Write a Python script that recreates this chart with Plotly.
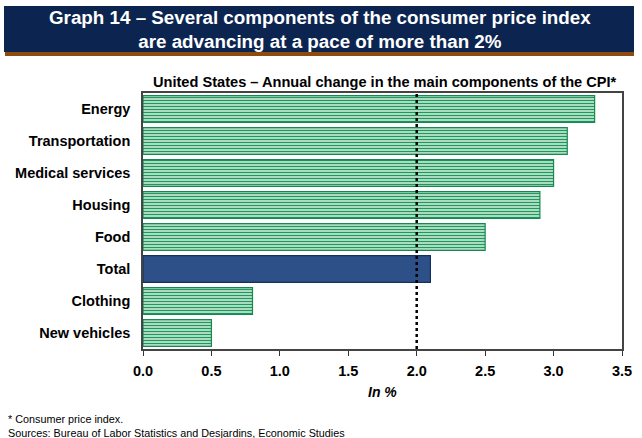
import plotly.graph_objects as go

# Annual change in the main CPI components (%)
categories = ["Energy", "Transportation", "Medical services", "Housing",
              "Food", "Total", "Clothing", "New vehicles"]
values = [3.3, 3.1, 3.0, 2.9, 2.5, 2.1, 0.8, 0.5]
x_ticks = [0.0, 0.5, 1.0, 1.5, 2.0, 2.5, 3.0, 3.5]
reference_rate = 2.0

green_line = "#17894F"
green_stripe = "#1C9A5A"
navy_fill = "#2E5089"
navy_line = "#172F5C"

# Striped green bars for components, solid navy for the total
fill_colors = [navy_fill if c == "Total" else green_stripe for c in categories]
line_colors = [navy_line if c == "Total" else green_line for c in categories]
pattern_shapes = ["" if c == "Total" else "-" for c in categories]

FONT = "Liberation Sans, Arial, sans-serif"

fig = go.Figure()
fig.add_trace(go.Bar(
    x=values,
    y=categories,
    orientation="h",
    marker=dict(
        color=fill_colors,
        line=dict(color=line_colors, width=1.2),
        pattern=dict(shape=pattern_shapes, bgcolor="#F4FBF7", size=3,
                     solidity=0.58, fillmode="replace"),
    ),
    hoverinfo="x+y",
))

# Dotted reference line at 2%
fig.add_shape(type="line", xref="x", yref="paper",
              x0=reference_rate, x1=reference_rate, y0=0, y1=1,
              line=dict(color="black", width=2.5, dash="dot"))

# Header band with brown underline
fig.add_shape(type="rect", xref="paper", yref="paper", layer="below",
              x0=-139 / 479, x1=491 / 479, y0=1 + 41 / 256, y1=1 + 87 / 256,
              fillcolor="#0C2550", line=dict(width=0))
fig.add_shape(type="rect", xref="paper", yref="paper", layer="below",
              x0=-138 / 479, x1=491 / 479, y0=1 + 37 / 256, y1=1 + 41 / 256,
              fillcolor="#8E4B10", line=dict(width=0))

fig.add_annotation(
    text="<b>Graph 14 – Several components of the consumer price index<br>"
         "are advancing at a pace of more than 2%</b>",
    xref="paper", yref="paper", x=177 / 479, y=1 + 64 / 256,
    xanchor="center", yanchor="middle", showarrow=False,
    font=dict(family=FONT, size=18.8, color="white"), align="center",
)
fig.add_annotation(
    text="<b>United States – Annual change in the main components of the CPI*</b>",
    xref="paper", yref="paper", x=0.505, y=1 + 11 / 256,
    xanchor="center", yanchor="middle", showarrow=False,
    font=dict(family=FONT, size=14.6, color="black"),
)
fig.add_annotation(
    text="<b><i>In %</i></b>",
    xref="paper", yref="paper", x=0.5, y=-43 / 256,
    xanchor="center", yanchor="middle", showarrow=False,
    font=dict(family=FONT, size=14, color="black"),
)
fig.add_annotation(
    text="* Consumer price index.<br>"
         "Sources: Bureau of Labor Statistics and Desjardins, Economic Studies",
    xref="paper", yref="paper", x=-137 / 479, y=-62 / 256,
    xanchor="left", yanchor="top", showarrow=False, align="left",
    font=dict(family=FONT, size=10.8, color="black"),
)

fig.update_layout(
    width=642, height=438,
    margin=dict(l=143, r=20, t=93, b=89, autoexpand=False),
    paper_bgcolor="white", plot_bgcolor="white",
    showlegend=False, bargap=0.16,
    font=dict(family=FONT, color="black"),
    xaxis=dict(
        range=[0, 3.5], tickvals=x_ticks,
        ticktext=[f"{v:.1f}" for v in x_ticks],
        ticks="outside", ticklen=5, tickcolor="#333333",
        showline=True, linecolor="#444444", linewidth=1.5, mirror=True,
        showgrid=False, zeroline=False, automargin=False,
        ticklabelstandoff=3,
        tickfont=dict(family=FONT, size=14.5, weight="bold"),
    ),
    yaxis=dict(
        categoryorder="array", categoryarray=categories[::-1],
        showline=True, linecolor="#444444", linewidth=1.5, mirror=True,
        showgrid=False, ticks="", ticklabelstandoff=8, automargin=False,
        tickfont=dict(family=FONT, size=14.5, weight="bold"),
    ),
)

fig.write_html("out.html")
